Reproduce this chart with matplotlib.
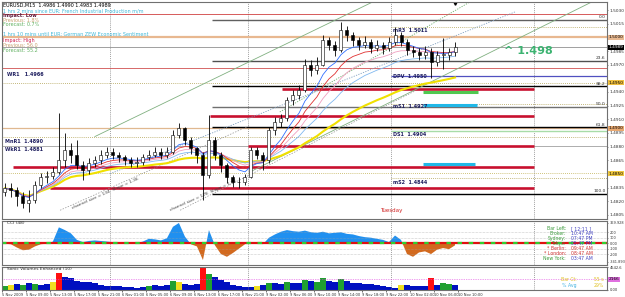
import numpy as np
import pandas as pd
import matplotlib.pyplot as plt

# hourly candles (EURUSD, 5 Nov 2009 -> 10 Nov 2009)
closes = [1.4834, 1.4832, 1.4826, 1.4818, 1.4821, 1.4838, 1.4846, 1.4848, 1.4852, 1.4865,
          1.4876, 1.4871, 1.4860, 1.4854, 1.4862, 1.4865, 1.4871, 1.4874, 1.4871, 1.4868,
          1.4865, 1.4862, 1.4863, 1.4868, 1.4871, 1.4874, 1.4871, 1.4874, 1.4893, 1.4900,
          1.4887, 1.4878, 1.4871, 1.4849, 1.4887, 1.4871, 1.4860, 1.4846, 1.4841, 1.4841,
          1.4846, 1.4876, 1.4871, 1.4865, 1.4898, 1.4907, 1.4911, 1.4931, 1.4937, 1.4942,
          1.4970, 1.4964, 1.4970, 1.4997, 1.4992, 1.4986, 1.5008, 1.5003, 1.4997, 1.4992,
          1.4995, 1.4988, 1.4992, 1.4988, 1.4995, 1.5003, 1.4995, 1.4986, 1.4984, 1.4981,
          1.4984, 1.4973, 1.4981, 1.4981, 1.4984, 1.4989]
highs = [1.4840, 1.4840, 1.4836, 1.4830, 1.4832, 1.4842, 1.4851, 1.4853, 1.4857, 1.4917,
         1.4895, 1.4884, 1.4887, 1.4864, 1.4867, 1.4870, 1.4876, 1.4880, 1.4878, 1.4874,
         1.4871, 1.4868, 1.4868, 1.4872, 1.4876, 1.4879, 1.4878, 1.4880, 1.4898, 1.4906,
         1.4902, 1.4890, 1.4880, 1.4874, 1.4915, 1.4890, 1.4874, 1.4862, 1.4849, 1.4846,
         1.4850, 1.4880, 1.4880, 1.4874, 1.4902, 1.4912, 1.4916, 1.4935, 1.4942, 1.4948,
         1.4976, 1.4975, 1.4978, 1.5003, 1.5000, 1.4996, 1.5017, 1.5012, 1.5006, 1.5000,
         1.5001, 1.4998, 1.4997, 1.4995, 1.5000, 1.5011, 1.5006, 1.4998, 1.4990, 1.4988,
         1.4990, 1.4988, 1.4985, 1.4999, 1.4988, 1.4995]
lows = [1.4826, 1.4825, 1.4815, 1.4812, 1.4808, 1.4818, 1.4834, 1.4840, 1.4844, 1.4850,
        1.4858, 1.4862, 1.4855, 1.4843, 1.4850, 1.4857, 1.4861, 1.4867, 1.4866, 1.4863,
        1.4860, 1.4857, 1.4858, 1.4860, 1.4865, 1.4868, 1.4866, 1.4867, 1.4872, 1.4889,
        1.4882, 1.4872, 1.4862, 1.4821, 1.4845, 1.4865, 1.4852, 1.4840, 1.4836, 1.4835,
        1.4838, 1.4845, 1.4866, 1.4854, 1.4862, 1.4893, 1.4902, 1.4908, 1.4926, 1.4932,
        1.4940, 1.4958, 1.4960, 1.4968, 1.4986, 1.4980, 1.4984, 1.4996, 1.4990, 1.4986,
        1.4988, 1.4983, 1.4985, 1.4982, 1.4985, 1.4992, 1.4990, 1.4981, 1.4978, 1.4975,
        1.4976, 1.4955, 1.4968, 1.4965, 1.4975, 1.4980]
first_open = 1.4830

cci = [-10, -20, -80, -130, -120, -60, -20, -10, 30, 290,
       240, 180, 60, 20, 40, 50, 40, 30, 20, 15,
       10, 20, 0, 30, 80, 70, 50, 90, 300, 370,
       120, -20, -60, -310, 240, -40, -200, -250, -180, -100,
       -20, 20, 15, -20, 100, 160, 210, 240, 220, 210,
       230, 200, 190, 210, 180, 190, 200, 170, 160, 130,
       110, 100, 80, 60, 20, 140, 60, -200, -250, -170,
       -150, -200, -120, -90, -110, -40]

volume = [800, 900, 1100, 1000, 1300, 1200, 1000, 1200, 1600, 3400,
          2500, 2300, 1800, 1500, 1600, 1300, 1000, 800, 700, 700,
          600, 500, 400, 600, 800, 900, 700, 900, 1700, 1500,
          1200, 900, 1100, 4500, 3200, 2600, 1900, 1500, 1000, 800,
          600, 500, 700, 900, 1300, 1400, 1200, 1600, 1300, 1400,
          2000, 1700, 1500, 2300, 1700, 1500, 2100, 1800, 1400, 1300,
          1200, 1100, 1000, 800, 500, 400, 900, 1000, 800, 700,
          800, 2300, 900, 1300, 1100, 1000]
vol_kinds = "gybgbgbbyr" "bbbbbbbbbb" "bbbbgbbbgy" "bbbrgbbbbb" "bbybgbbgbb" \
            "gbggbbgbbb" "bbbbbbybbb" "brbggb"

time_labels = ["5 Nov 2009", "5 Nov 09:00", "5 Nov 13:00", "5 Nov 17:00", "5 Nov 21:00",
               "6 Nov 01:00", "6 Nov 05:00", "6 Nov 09:00", "6 Nov 13:00", "6 Nov 17:00",
               "6 Nov 21:00", "9 Nov 02:00", "9 Nov 06:00", "9 Nov 10:00", "9 Nov 14:00",
               "9 Nov 18:00", "9 Nov 22:00", "10 Nov 02:00", "10 Nov 06:00", "10 Nov 10:00"]
day_separators = [17.5, 40.5, 64.3, 88.2]

price_ticks = [1.5030, 1.5015, 1.4985, 1.4970, 1.4940, 1.4925, 1.4910, 1.4895,
               1.4880, 1.4865, 1.4835, 1.4820, 1.4805]
price_tags = [(1.5000, '#e8b890', 'black'), (1.4989, 'black', 'white'),
              (1.4950, '#f0c040', 'black'), (1.4900, '#e8a870', 'black'),
              (1.4850, '#f0c840', 'black')]

# support / resistance zones (price, start hour)
red_levels = [1.4943, 1.4914, 1.4881, 1.4857, 1.4834]
red_starts = [46.2, 34.2, 40.5, 1.3, 7.5]

# fibonacci retracement drawn from the 9 Nov swing
fib_high, fib_low = 1.5019, 1.4828
fib_ratios = [0.0, 0.236, 0.382, 0.5, 0.618, 1.0]
fib_names = ["0.0", "23.6", "38.2", "50.0", "61.8", "100.0"]
fib_colors = ['#606060', '#505050', 'black', '#707070', 'black', 'black']

# pivot labels for today
pivot_names = ["mR3  1.5011", "DPV  1.4950", "mS1  1.4927", "DS1  1.4904", "mS2  1.4844"]
pivot_label_y = [1.5008, 1.4957, 1.4924, 1.4893, 1.4840]

cci_info = [("Bar Left:", "[ 12:11 ]", '#3a9a3a', '#4040c0'),
            ("Broker:", "10:47 AM", '#3a9a3a', '#4040c0'),
            ("Sydney:", "07:47 PM", '#3a9a3a', '#4040c0'),
            ("Tokyo:", "05:47 PM", '#3a9a3a', '#4040c0'),
            ("* Berlin:", "09:47 AM", '#d03030', '#d03030'),
            ("* London:", "08:47 AM", '#d03030', '#d03030'),
            ("New York:", "03:47 AM", '#3a9a3a', '#4040c0')]
cci_info_y = [260, 170, 80, -15, -105, -195, -290]

x = np.arange(len(closes))
opens = [first_open] + closes[:-1]
s = pd.Series(closes)

fig = plt.figure(figsize=(6.25, 2.97), dpi=100)
ax = fig.add_axes([0.003, 0.263, 0.968, 0.730])
ax_cci = fig.add_axes([0.003, 0.108, 0.968, 0.148])
ax_vol = fig.add_axes([0.003, 0.024, 0.968, 0.077])
XL = (-0.5, 100.3)
LBL = 3.1

for a in (ax, ax_cci, ax_vol):
    a.set_xlim(*XL)
    a.yaxis.tick_right()
    a.tick_params(axis='y', labelsize=LBL, length=1, width=0.4, pad=0.8, colors='#303030')
    a.tick_params(axis='x', length=0)
    a.set_xticks([])
    for sp in a.spines.values():
        sp.set_color('#707070')
        sp.set_linewidth(0.8)
    for d in day_separators:
        a.axvline(d, color='#808080', lw=0.5, ls=(0, (1.5, 1.5)))

# ---- price panel ----
ax.set_ylim(1.48005, 1.50388)
ax.set_yticks(price_ticks)
ax.set_yticklabels([f"{p:.4f}" for p in price_ticks])
for p, bg, fg in price_tags:
    ax.text(1.0035, p, f"{p:.4f}", transform=ax.get_yaxis_transform(), fontsize=LBL,
            va='center', ha='left', color=fg,
            bbox=dict(boxstyle='square,pad=0.12', fc=bg, ec='none'))

# full width pivot lines
ax.axhline(1.5026, color='#d04040', lw=0.6)
ax.axhline(1.5000, color='#e8b890', lw=1.6)
ax.axhline(1.4989, color='#909090', lw=0.6)
ax.axhline(1.4966, color='#d05050', lw=0.6)
ax.axhline(1.4950, color='#b0a050', lw=0.6, ls=(0, (1, 1.5)))
ax.axhline(1.4900, color='#e0b890', lw=0.9)
ax.axhline(1.4890, color='#b0a050', lw=0.6, ls=(0, (1, 1.5)))
ax.axhline(1.4881, color='#a0a0a0', lw=0.6)
ax.axhline(1.4851, color='#c0b050', lw=0.6, ls=(0, (1, 1.5)))

# today's pivots
t0 = day_separators[2]
ax.hlines(1.5011, t0, XL[1], color='#b0a050', lw=0.6, ls=(0, (1, 1.5)))
ax.hlines(1.4958, t0, XL[1], color='#5050c0', lw=0.9)
ax.hlines(1.4927, t0, XL[1], color='#b0a050', lw=0.6, ls=(0, (1, 1.5)))
ax.hlines(1.4897, t0, XL[1], color='#a8dca8', lw=1.0)
ax.hlines(1.4845, t0, XL[1], color='#b0a050', lw=0.6, ls=(0, (1, 1.5)))

# fibonacci
for r, name, c in zip(fib_ratios, fib_names, fib_colors):
    lvl = fib_high - r * (fib_high - fib_low)
    ax.hlines(lvl, 34.5, XL[1], color=c, lw=1.0)
    ax.text(100.1, lvl + 0.00008, name, fontsize=3.2, ha='right', va='bottom', color='#303030')

# red zones
for lvl, st in zip(red_levels, red_starts):
    ax.hlines(lvl, st, day_separators[3], color='#c8102e', lw=1.9)

# short coloured bars
ax.hlines(1.4940, 69.7, 78.8, color='#50c850', lw=2.2)
ax.hlines(1.4926, 69.7, 78.7, color='#20b8e8', lw=2.2)
ax.hlines(1.4861, 69.7, 78.3, color='#20b8e8', lw=2.2)

# channel lines (hour, price)
ax.plot([15.0, 61.3], [1.4891, 1.5039], color='#80b080', lw=0.6)
ax.plot([40.8, 97.8], [1.4852, 1.5039], color='#80b080', lw=0.6)
ax.plot([45.8, 77.5], [1.4918, 1.5039], color='#70b070', lw=0.6, ls=(0, (1.5, 1.5)))
ax.plot([17.5, 85.0], [1.4850, 1.5028], color='#80a0c0', lw=0.6, ls=(0, (1.5, 1.5)))
ax.plot([9.2, 40.8], [1.4810, 1.4903], color='#909090', lw=0.5, ls=(0, (2, 2)))
ax.plot([29.2, 68.3], [1.4810, 1.4941], color='#909090', lw=0.5, ls=(0, (2, 2)))
ax.text(16.8, 1.4828, "channel size = 134  Slope = 1.36", fontsize=3.2, rotation=24,
        ha='center', va='center', color='#404040')
ax.text(33.0, 1.4826, "channel size = 178  Slope = 1.36", fontsize=3.2, rotation=24,
        ha='center', va='center', color='#404040')

# moving averages
ax.plot(x, s.ewm(span=45).mean(), color='#f0e000', lw=1.5)
ax.plot(x, s.ewm(span=20).mean(), color='#80b8f0', lw=0.6)
ax.plot(x, s.ewm(span=14).mean(), color='#f0a0c0', lw=0.6)
ax.plot(x, s.ewm(span=10).mean(), color='#e03030', lw=0.6)
ax.plot(x, s.ewm(span=7).mean(), color='#3070ff', lw=0.6)

# candles
ax.vlines(x, lows, highs, color='black', lw=0.6, zorder=5)
bull = [c >= o for o, c in zip(opens, closes)]
body_lo = [min(o, c) for o, c in zip(opens, closes)]
body_h = [max(abs(c - o), 0.00004) for o, c in zip(opens, closes)]
ax.bar(x, body_h, bottom=body_lo, width=0.5, zorder=6, linewidth=0.4,
       color=['white' if b else 'black' for b in bull], edgecolor='black')
ax.plot([len(closes) - 1], [1.50375], marker='v', color='black', ms=2.5)

# texts
navy = '#202060'
ax.text(0.3, 1.4962, "WR1   1.4966", fontsize=3.5, color=navy, fontweight='bold', va='top')
ax.text(0.0, 1.4888, "MnR1  1.4890", fontsize=3.5, color=navy, fontweight='bold', va='top')
ax.text(0.0, 1.4880, "WkR1  1.4881", fontsize=3.5, color=navy, fontweight='bold', va='top')
for name, yv in zip(pivot_names, pivot_label_y):
    ax.text(64.6, yv, name, fontsize=3.5, color=navy, fontweight='bold', va='center')
ax.text(87.3, 1.4985, "^ 1.498", fontsize=8, color='#3cb371', fontweight='bold',
        ha='center', va='center')
ax.text(64.3, 1.4810, "Tuesday", fontsize=4, color='#d02020', ha='center', va='center')

top_texts = [("EURUSD,M15  1.4986 1.4990 1.4983 1.4989", 5, 'black', 'normal'),
             ("1 hrs 2 mins since EUR: French Industrial Production m/m", 11, '#40b8d8', 'normal'),
             ("Impact: Low", 15.5, '#602040', 'bold'),
             ("Previous: 1.8%", 20.5, '#c8a070', 'normal'),
             ("Forecast: 0.7%", 25, '#60b060', 'normal'),
             ("1 hrs 10 mins until EUR: German ZEW Economic Sentiment", 35, '#40b8d8', 'normal'),
             ("Impact: High", 40.5, '#d02050', 'normal'),
             ("Previous: 56.0", 45.5, '#c8a070', 'normal'),
             ("Forecast: 55.2", 50.5, '#60b060', 'normal')]
for txt, py, c, w in top_texts:
    fig.text(3 / 625, 1 - py / 297, txt, fontsize=3.5, color=c, fontweight=w, va='center')

# ---- CCI panel ----
cv = np.array(cci, dtype=float)
ax_cci.set_ylim(-399, 407)
ax_cci.fill_between(x, cv, 0, where=cv >= 0, interpolate=True, color='#2090f0', lw=0)
ax_cci.fill_between(x, cv, 0, where=cv < 0, interpolate=True, color='#d2691e', lw=0)
for lv in (200, 100, -100, -200):
    ax_cci.axhline(lv, color='#a0a0a0', lw=0.4, ls=(0, (1, 1.5)))
ax_cci.axhline(0, color='#e01010', lw=1.6)
ax_cci.axhline(0, color='#30d030', lw=1.6, ls=(0, (2, 3)))
ax_cci.set_yticks([369.928, 200, 100, 0, -100, -200, -341.893])
ax_cci.set_yticklabels(["369.928", "200", "100", "0.00", "-100", "-200", "-341.893"],
                       fontsize=2.5)
ax_cci.text(0.3, 370, "CCI (48)", fontsize=3.2, color='#303030', va='center')
for (lab, val, c1, c2), yv in zip(cci_info, cci_info_y):
    ax_cci.text(93.5, yv, lab, fontsize=3.3, color=c1, ha='right', va='center')
    ax_cci.text(94.3, yv, val, fontsize=3.3, color=c2, ha='left', va='center')

# ---- volume panel ----
kind_colors = {'b': '#0010c0', 'g': '#20a030', 'y': '#f0e020', 'r': '#ff1010', 'l': '#60f060'}
ax_vol.set_ylim(0, 4600)
ax_vol.bar(x, volume, width=0.9, color=[kind_colors[k] for k in vol_kinds], lw=0)
ax_vol.axhline(2166, color='#e040e0', lw=0.5, ls=(0, (1, 1.5)))
ax_vol.set_yticks([4542.6, 0])
ax_vol.set_yticklabels(["4542.6", "0.00"], fontsize=2.6)
ax_vol.text(1.0035, 2166, "2166", transform=ax_vol.get_yaxis_transform(), fontsize=LBL,
            va='center', ha='left', color='black',
            bbox=dict(boxstyle='square,pad=0.12', fc='#e070e0', ec='none'))
ax_vol.text(0.3, 4100, "Sonic Volumes Enhanced (10)", fontsize=3.2, color='#303030', va='center')
ax_vol.text(95.2, 2100, "Bar Ct:", fontsize=3.3, color='#e0c020', ha='right', va='center')
ax_vol.text(99.8, 2100, "55 s", fontsize=3.3, color='#e0c020', ha='right', va='center')
ax_vol.text(95.2, 800, "% Avg", fontsize=3.3, color='#40b0e0', ha='right', va='center')
ax_vol.text(99.8, 800, "29%", fontsize=3.3, color='#e0c020', ha='right', va='center')

ax_vol.set_xticks(np.arange(len(time_labels)) * 4 - 0.5)
ax_vol.set_xticklabels(time_labels, fontsize=2.6, ha='left', color='#303030')
ax_vol.tick_params(axis='x', length=1.2, width=0.4, pad=0.8)

fig.savefig('out.png', dpi=100)
